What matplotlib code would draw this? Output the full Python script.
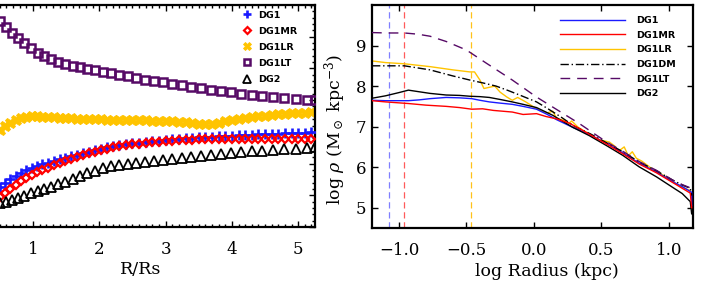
import numpy as np
import matplotlib
matplotlib.use("Agg")
import matplotlib.pyplot as plt

# ---- left panel: profiles vs R/Rs (y in panel units, labels cropped away) ----
rGridA = [0.50, 0.59, 0.68, 0.77, 0.87, 0.97, 1.07, 1.17, 1.27, 1.38, 1.49, 1.60, 1.71,
          1.82, 1.94, 2.06, 2.18, 2.30, 2.43, 2.56, 2.69, 2.82, 2.96, 3.10, 3.24, 3.38,
          3.53, 3.68, 3.83, 3.98, 4.14, 4.30, 4.46, 4.62, 4.79, 4.96, 5.13, 5.25]
rGridB = [0.50, 0.58, 0.66, 0.74, 0.82, 0.90, 0.98, 1.06, 1.14, 1.22, 1.31, 1.40, 1.49,
          1.58, 1.67, 1.76, 1.85, 1.94, 2.03, 2.12, 2.21, 2.30, 2.40, 2.50, 2.60, 2.70,
          2.80, 2.90, 3.00, 3.10, 3.20, 3.30, 3.40, 3.50, 3.60, 3.70, 3.80, 3.90, 4.00,
          4.10, 4.20, 4.30, 4.40, 4.50, 4.60, 4.70, 4.80, 4.90, 5.00, 5.10, 5.20]

dg1LT = [6.50, 6.30, 6.12, 5.95, 5.79, 5.63, 5.49, 5.38, 5.29, 5.21, 5.15, 5.09, 5.04,
         4.99, 4.95, 4.90, 4.85, 4.80, 4.75, 4.70, 4.65, 4.61, 4.56, 4.51, 4.47, 4.42,
         4.37, 4.33, 4.29, 4.25, 4.20, 4.16, 4.13, 4.10, 4.07, 4.04, 4.02, 4.00]
dg2 = [0.75, 0.80, 0.86, 0.92, 0.99, 1.06, 1.13, 1.20, 1.27, 1.35, 1.43, 1.52, 1.61,
       1.70, 1.78, 1.85, 1.91, 1.96, 2.00, 2.03, 2.06, 2.09, 2.12, 2.15, 2.18, 2.21,
       2.25, 2.28, 2.31, 2.34, 2.37, 2.39, 2.41, 2.43, 2.45, 2.47, 2.49, 2.51]
dg1 = [1.25, 1.40, 1.52, 1.62, 1.71, 1.79, 1.86, 1.92, 1.98, 2.03, 2.08, 2.13, 2.18,
       2.23, 2.28, 2.33, 2.38, 2.43, 2.47, 2.51, 2.55, 2.58, 2.61, 2.64, 2.66, 2.68,
       2.70, 2.72, 2.74, 2.76, 2.78, 2.80, 2.81, 2.83, 2.84, 2.85, 2.86, 2.87, 2.88,
       2.89, 2.90, 2.91, 2.92, 2.92, 2.93, 2.94, 2.95, 2.95, 2.96, 2.97, 2.98]
dg1MR = [0.94, 1.08, 1.21, 1.33, 1.44, 1.54, 1.63, 1.72, 1.80, 1.87, 1.94, 2.02, 2.09,
         2.15, 2.21, 2.27, 2.33, 2.38, 2.43, 2.47, 2.51, 2.55, 2.58, 2.61, 2.63, 2.65,
         2.67, 2.69, 2.70, 2.72, 2.73, 2.74, 2.75, 2.76, 2.77, 2.77, 2.78, 2.78, 2.79,
         2.79, 2.79, 2.79, 2.79, 2.79, 2.79, 2.79, 2.79, 2.79, 2.79, 2.79, 2.79]
dg1LR = [3.05, 3.18, 3.29, 3.37, 3.43, 3.47, 3.49, 3.49, 3.48, 3.47, 3.46, 3.45, 3.44,
         3.43, 3.42, 3.41, 3.40, 3.40, 3.39, 3.38, 3.38, 3.37, 3.37, 3.36, 3.36, 3.36,
         3.35, 3.35, 3.35, 3.34, 3.32, 3.30, 3.28, 3.26, 3.25, 3.26, 3.29, 3.33, 3.37,
         3.41, 3.44, 3.47, 3.49, 3.51, 3.53, 3.55, 3.56, 3.58, 3.59, 3.61, 3.63]

# ---- right panel: log rho vs log radius ----
xDG1 = [-1.20, -1.10, -1.00, -0.93, -0.85, -0.77, -0.65, -0.55, -0.46, -0.40, -0.33, -0.25,
        -0.16, -0.08, 0.02, 0.10, 0.17, 0.29, 0.41, 0.54, 0.66, 0.78, 0.91, 1.03, 1.10,
        1.15, 1.17, 1.17]
yDG1 = [7.65, 7.64, 7.64, 7.64, 7.66, 7.69, 7.72, 7.71, 7.69, 7.65, 7.61, 7.58, 7.55,
        7.50, 7.43, 7.30, 7.17, 6.98, 6.81, 6.58, 6.35, 6.10, 5.88, 5.64, 5.52, 5.42,
        5.38, 5.05]
xMR = [-1.20, -1.10, -0.93, -0.80, -0.65, -0.55, -0.46, -0.38, -0.30, -0.16, -0.08, 0.02,
       0.09, 0.17, 0.26, 0.35, 0.45, 0.55, 0.66, 0.78, 0.91, 1.03, 1.10, 1.16, 1.17]
yMR = [7.64, 7.61, 7.57, 7.53, 7.50, 7.47, 7.43, 7.44, 7.40, 7.36, 7.30, 7.32, 7.25,
       7.19, 7.09, 6.93, 6.74, 6.55, 6.33, 6.08, 5.86, 5.62, 5.48, 5.36, 5.00]
xLR = [-1.20, -1.10, -0.96, -0.77, -0.60, -0.476, -0.44, -0.40, -0.37, -0.33, -0.29, -0.25,
       -0.20, -0.16, -0.12, -0.06, 0.04, 0.10, 0.14, 0.17, 0.22, 0.26, 0.28, 0.33, 0.38,
       0.43, 0.47, 0.52, 0.56, 0.60, 0.63, 0.67, 0.70, 0.73, 0.76, 0.80, 0.84, 0.88,
       0.92, 0.97, 1.02, 1.07, 1.12, 1.16, 1.17]
yLR = [8.62, 8.58, 8.55, 8.48, 8.40, 8.35, 8.35, 8.15, 7.94, 7.97, 8.00, 7.85, 7.73,
       7.65, 7.72, 7.61, 7.40, 7.34, 7.38, 7.20, 7.16, 7.08, 7.14, 6.98, 6.88, 6.78,
       6.68, 6.65, 6.62, 6.52, 6.40, 6.50, 6.28, 6.38, 6.22, 6.15, 6.05, 5.95, 5.88,
       5.78, 5.66, 5.56, 5.48, 5.42, 5.15]
xDM = [-1.20, -1.10, -0.96, -0.77, -0.60, -0.476, -0.38, -0.28, -0.19, -0.106, 0.02, 0.10,
       0.20, 0.30, 0.42, 0.54, 0.66, 0.78, 0.91, 1.03, 1.10, 1.16, 1.17]
yDM = [8.50, 8.50, 8.50, 8.40, 8.25, 8.15, 8.08, 8.00, 7.89, 7.78, 7.61, 7.45, 7.24,
       7.01, 6.82, 6.60, 6.38, 6.13, 5.91, 5.68, 5.56, 5.48, 5.30]
xLT = [-1.20, -1.09, -0.96, -0.86, -0.77, -0.65, -0.50, -0.35, -0.16, 0.02, 0.18, 0.34,
       0.45, 0.54, 0.66, 0.78, 0.91, 1.03, 1.10, 1.16, 1.17]
yLT = [9.32, 9.31, 9.31, 9.28, 9.23, 9.10, 8.89, 8.56, 8.15, 7.73, 7.40, 7.07, 6.82,
       6.62, 6.39, 6.14, 5.92, 5.68, 5.57, 5.49, 5.35]
xDG2 = [-1.20, -1.10, -1.00, -0.93, -0.85, -0.77, -0.65, -0.55, -0.476, -0.40, -0.33,
        -0.25, -0.16, -0.08, 0.02, 0.14, 0.29, 0.41, 0.54, 0.66, 0.78, 0.91, 1.03, 1.10,
        1.16, 1.17]
yDG2 = [7.70, 7.76, 7.84, 7.90, 7.86, 7.82, 7.78, 7.77, 7.75, 7.74, 7.72, 7.67, 7.61,
        7.55, 7.47, 7.28, 6.98, 6.78, 6.53, 6.29, 6.01, 5.76, 5.50, 5.35, 5.15, 4.85]

# resolution radii (vertical dashed lines)
resRadii = [-1.074, -0.965, -0.464]
resColors = ["#7f7fff", "#ff5a5a", "#ffc21a"]

blue = "#1a1aff"
red = "#ff0000"
gold = "#ffc400"
purple = "#560a66"

plt.rcParams['font.family'] = 'DejaVu Serif'
plt.rcParams['mathtext.fontset'] = 'dejavuserif'

fig = plt.figure(figsize=(7.03, 2.85), dpi=100)
W, H = 703.0, 285.0

def setupAxes(ax):
    for s in ax.spines.values():
        s.set_linewidth(1.6)
    ax.tick_params(which='both', direction='in', top=True, right=True, width=1.0,
                   labelsize=12)
    ax.tick_params(which='major', length=4.5)
    ax.tick_params(which='minor', length=2.2)
    ax.tick_params(axis='x', pad=10)
    ax.tick_params(axis='y', pad=4)

# left panel, partly outside the figure like in the cropped original
axL = fig.add_axes([-33.3 / W, 1 - 227 / H, 348.3 / W, 222 / H])
setupAxes(axL)
ms_kw = dict(linestyle='none')
axL.plot(rGridB, dg1LR, marker='X', color=gold, markersize=7.8, markeredgewidth=0.6,
         label='DG1LR', zorder=2, **ms_kw)
axL.plot(rGridA, dg1LT, marker='s', color=purple, markerfacecolor='none', markersize=5.2,
         markeredgewidth=1.8, label='DG1LT', zorder=3, **ms_kw)
axL.plot(rGridB, dg1, marker='+', color=blue, markersize=7, markeredgewidth=1.9,
         label='DG1', zorder=3, **ms_kw)
axL.plot(rGridB, dg1MR, marker='D', color=red, markerfacecolor='none', markersize=4.4,
         markeredgewidth=1.6, label='DG1MR', zorder=4, **ms_kw)
axL.plot(rGridA, dg2, marker='^', color='black', markerfacecolor='none', markersize=7,
         markeredgewidth=1.3, label='DG2', zorder=4, **ms_kw)
axL.set_xlim(0, 5.253)
axL.set_ylim(0, 7)
axL.set_xticks([1, 2, 3, 4, 5])
axL.set_xticks(np.arange(0, 5.25, 0.1), minor=True)
axL.set_yticks(np.arange(0, 8, 1))
axL.set_yticks(np.arange(0, 7.01, 0.2), minor=True)
axL.set_yticklabels([])
axL.set_xlabel("R/Rs", fontsize=12.5, labelpad=2)

handles, labels = axL.get_legend_handles_labels()
order = ['DG1', 'DG1MR', 'DG1LR', 'DG1LT', 'DG2']
hmap = dict(zip(labels, handles))
legL = axL.legend([hmap[k] for k in order], order, loc='upper left',
                  bbox_to_anchor=(0.792, 0.975), frameon=False, borderpad=0,
                  borderaxespad=0, handlelength=1.0, handletextpad=0.6,
                  labelspacing=0.75, numpoints=1, markerscale=0.8,
                  prop={'family': 'DejaVu Sans', 'weight': 'bold', 'size': 6.8})

# right panel
axR = fig.add_axes([372 / W, 1 - 228 / H, 321 / W, 223 / H])
setupAxes(axR)
for xr, c in zip(resRadii, resColors):
    axR.axvline(xr, color=c, linestyle=(0, (5, 3)), linewidth=0.9, zorder=1)
axR.plot(xDG1, yDG1, color=blue, lw=1.0, label='DG1', zorder=3)
axR.plot(xMR, yMR, color=red, lw=1.0, label='DG1MR', zorder=4)
axR.plot(xLR, yLR, color=gold, lw=1.0, label='DG1LR', zorder=2)
axR.plot(xDM, yDM, color='black', lw=1.0, linestyle=(0, (6, 2, 1, 2)), label='DG1DM', zorder=3)
axR.plot(xLT, yLT, color=purple, lw=1.0, linestyle=(0, (7, 5)), label='DG1LT', zorder=3)
axR.plot(xDG2, yDG2, color='black', lw=1.0, label='DG2', zorder=3)
axR.set_xlim(-1.2, 1.18)
axR.set_ylim(4.5, 10.0)
axR.set_xticks([-1.0, -0.5, 0.0, 0.5, 1.0])
axR.set_xticklabels(['\u22121.0', '\u22120.5', '0.0', '0.5', '1.0'])
axR.set_yticks([5, 6, 7, 8, 9])
axR.set_xlabel("log Radius (kpc)", fontsize=12.5, labelpad=2)
axR.xaxis.set_label_coords(0.545, -0.155)
axR.set_ylabel(r"log $\rho$ (M$_\odot$ kpc$^{-3}$)", fontsize=12.5)
axR.yaxis.set_label_coords(-0.075, 0.44)
axR.legend(loc='upper left', bbox_to_anchor=(0.586, 0.951), frameon=False,
           borderpad=0, borderaxespad=0, handlelength=6.9, handletextpad=1.1,
           labelspacing=0.6,
           prop={'family': 'DejaVu Sans', 'weight': 'bold', 'size': 6.8})

fig.savefig("out.png", dpi=100)
